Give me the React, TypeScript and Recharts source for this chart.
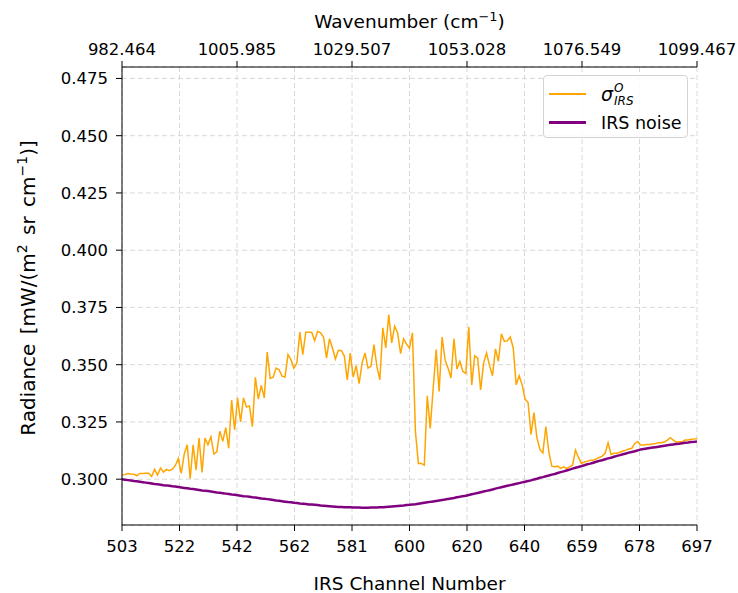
import React from 'react';
import { LineChart, Line, XAxis, YAxis, CartesianGrid, Legend } from 'recharts';

// channel numbers 503..697 (one per sample)
const channels = Array.from({ length: 195 }, (_, i) => 503 + i);

// sigma^O_IRS, one value per channel
const sigmaIrs = [
  0.3018, 0.3020, 0.3025, 0.3023, 0.3022, 0.3015, 0.3025, 0.3025, 0.3026, 0.3026,
  0.3012, 0.3043, 0.3018, 0.3049, 0.3031, 0.3043, 0.3037, 0.3044, 0.3060, 0.3090,
  0.3025, 0.3110, 0.3150, 0.3002, 0.3150, 0.3040, 0.3180, 0.3030, 0.3180, 0.3150,
  0.3185, 0.3110, 0.3120, 0.3210, 0.3165, 0.3225, 0.3135, 0.3345, 0.3215, 0.3355,
  0.3250, 0.3355, 0.3315, 0.3320, 0.3230, 0.3445, 0.3350, 0.3410, 0.3355, 0.3555,
  0.3440, 0.3445, 0.3485, 0.3478, 0.3450, 0.3446, 0.3544, 0.3522, 0.3485, 0.3507,
  0.3642, 0.3544, 0.3642, 0.3642, 0.3642, 0.3605, 0.3646, 0.3639, 0.3621, 0.3529,
  0.3613, 0.3573, 0.3525, 0.3563, 0.3561, 0.3539, 0.3434, 0.3551, 0.3446, 0.3496,
  0.3417, 0.3507, 0.3551, 0.3485, 0.3493, 0.3588, 0.3493, 0.3434, 0.3661, 0.3573,
  0.3719, 0.3595, 0.3668, 0.3639, 0.3548, 0.3613, 0.3590, 0.3572, 0.3639, 0.3208,
  0.3069, 0.3069, 0.3061, 0.3364, 0.3222, 0.3398, 0.3566, 0.3383, 0.3621, 0.3522,
  0.3485, 0.3442, 0.3613, 0.3481, 0.3515, 0.3471, 0.3461, 0.3665, 0.3412, 0.3539,
  0.3529, 0.3390, 0.3507, 0.3551, 0.3496, 0.3452, 0.3569, 0.3515, 0.3635, 0.3602,
  0.3604, 0.3621, 0.3573, 0.3412, 0.3452, 0.3412, 0.3350, 0.3335, 0.3195, 0.3291,
  0.3180, 0.3130, 0.3115, 0.3230, 0.3120, 0.3057, 0.3054, 0.3057, 0.3047, 0.3054,
  0.3047, 0.3054, 0.3061, 0.3127, 0.3095, 0.3069, 0.3075, 0.3079, 0.3083, 0.3083,
  0.3089, 0.3095, 0.3101, 0.3113, 0.3159, 0.3108, 0.3113, 0.3113, 0.3118, 0.3123,
  0.3127, 0.3132, 0.3135, 0.3156, 0.3164, 0.3149, 0.3149, 0.3152, 0.3152, 0.3154,
  0.3156, 0.3159, 0.3159, 0.3162, 0.3171, 0.3181, 0.3171, 0.3162, 0.3164, 0.3164,
  0.3171, 0.3171, 0.3174, 0.3175, 0.3178,
];

// IRS noise
const irsNoise = [
  0.3000, 0.2998, 0.2996, 0.2994, 0.2992, 0.2991, 0.2989, 0.2987, 0.2985, 0.2983,
  0.2981, 0.2979, 0.2978, 0.2976, 0.2974, 0.2973, 0.2971, 0.2969, 0.2968, 0.2966,
  0.2964, 0.2962, 0.2960, 0.2958, 0.2957, 0.2955, 0.2953, 0.2951, 0.2950, 0.2948,
  0.2946, 0.2944, 0.2942, 0.2941, 0.2939, 0.2937, 0.2935, 0.2933, 0.2932, 0.2930,
  0.2928, 0.2926, 0.2925, 0.2923, 0.2921, 0.2920, 0.2918, 0.2916, 0.2915, 0.2913,
  0.2911, 0.2909, 0.2907, 0.2906, 0.2904, 0.2902, 0.2900, 0.2899, 0.2897,
  0.2896, 0.2894, 0.2893, 0.2892, 0.2890, 0.2889, 0.2888, 0.2887, 0.2885, 0.2884,
  0.2883, 0.2882, 0.2881, 0.2880, 0.2879, 0.2879, 0.2878, 0.2877, 0.2877, 0.2876,
  0.2876, 0.2876, 0.2875, 0.2875, 0.2875, 0.2876, 0.2876, 0.2876, 0.2877,
  0.2878, 0.2879, 0.2880, 0.2881, 0.2882, 0.2883, 0.2884, 0.2885, 0.2887, 0.2888,
  0.2890, 0.2891, 0.2893, 0.2895, 0.2897, 0.2899, 0.2901, 0.2903, 0.2905, 0.2907,
  0.2909, 0.2911, 0.2914, 0.2916, 0.2918, 0.2921, 0.2923, 0.2926, 0.2928, 0.2931,
  0.2934, 0.2937, 0.2940, 0.2943, 0.2946, 0.2949, 0.2952, 0.2955, 0.2959, 0.2962,
  0.2965, 0.2968, 0.2971, 0.2974, 0.2977, 0.2980, 0.2983, 0.2986, 0.2989, 0.2992,
  0.2995, 0.2999, 0.3002, 0.3006, 0.3009, 0.3013, 0.3016, 0.3020, 0.3023, 0.3027,
  0.3031, 0.3034, 0.3038, 0.3042, 0.3046, 0.3050, 0.3053, 0.3057, 0.3061,
  0.3065, 0.3068, 0.3072, 0.3076, 0.3080, 0.3083, 0.3087, 0.3091, 0.3094, 0.3098,
  0.3102, 0.3105, 0.3109, 0.3112, 0.3116, 0.3119, 0.3122, 0.3126, 0.3130,
  0.3132, 0.3134, 0.3136, 0.3138, 0.3140, 0.3142, 0.3144, 0.3146, 0.3148, 0.3150,
  0.3152, 0.3154, 0.3155, 0.3157, 0.3159, 0.3160, 0.3162, 0.3163, 0.3165,
];

// bottom axis ticks (10 equal steps) and their printed labels
const channelTicks = [503, 522.4, 541.8, 561.2, 580.6, 600, 619.4, 638.8, 658.2, 677.6, 697];
const channelTickLabels = ['503', '522', '542', '562', '581', '600', '620', '640', '659', '678', '697'];

// top axis: every other bottom tick, labelled with wavenumber
const wavenumberTicks = [503, 541.8, 580.6, 619.4, 658.2, 697];
const wavenumberLabels = ['982.464', '1005.985', '1029.507', '1053.028', '1076.549', '1099.467'];

const radianceTicks = [0.3, 0.325, 0.35, 0.375, 0.4, 0.425, 0.45, 0.475];

const data = channels.map((ch, i) => ({ ch, sigma: sigmaIrs[i], noise: irsNoise[i] }));

const FONT = '"DejaVu Sans", sans-serif';
const tickStyle = { fontSize: 16.5, fill: '#000', fontFamily: FONT };
const TITLE = 18.5;
const SUP = 13;

const BottomTitle = ({ viewBox }: any) => {
  const cx = viewBox.x + viewBox.width / 2;
  return (
    <text x={cx} y={590} textAnchor="middle" fontSize={TITLE} fontFamily={FONT} fill="#000">
      IRS Channel Number
    </text>
  );
};

const TopTitle = ({ viewBox }: any) => {
  const cx = viewBox.x + viewBox.width / 2;
  return (
    <text x={cx} y={28} textAnchor="middle" fontSize={TITLE} fontFamily={FONT} fill="#000">
      <tspan>Wavenumber (cm</tspan>
      <tspan dy={-7} fontSize={SUP}>−1</tspan>
      <tspan dy={7}>)</tspan>
    </text>
  );
};

const LeftTitle = ({ viewBox }: any) => {
  const cy = viewBox.y + viewBox.height / 2 - 8;
  const x = 35;
  return (
    <text
      x={x}
      y={cy}
      transform={`rotate(-90 ${x} ${cy})`}
      textAnchor="middle"
      fontSize={20}
      fontFamily={FONT}
      fill="#000"
      style={{ wordSpacing: 3 }}
    >
      <tspan>Radiance [mW/(m</tspan>
      <tspan dy={-8} fontSize={14}>2</tspan>
      <tspan dy={8}> sr cm</tspan>
      <tspan dy={-8} fontSize={14}>−1</tspan>
      <tspan dy={8}>)]</tspan>
    </text>
  );
};

const LegendBox = () => (
  <div
    style={{
      width: 145,
      height: 63,
      boxSizing: 'border-box',
      border: '1px solid #d3d3d3',
      borderRadius: 4,
      background: 'rgba(255,255,255,0.85)',
      padding: '3px 0 0 5px',
      fontFamily: FONT,
      fontSize: 17.5,
      color: '#000',
    }}
  >
    <div style={{ display: 'flex', alignItems: 'center', height: 29 }}>
      <div style={{ width: 37, height: 2, background: '#FFA500', marginRight: 15 }} />
      <span style={{ fontStyle: 'italic', fontSize: 19 }}>σ</span>
      <span
        style={{
          display: 'inline-flex',
          flexDirection: 'column',
          fontSize: 12,
          fontStyle: 'italic',
          lineHeight: '13px',
          marginLeft: 1,
          marginTop: 2,
        }}
      >
        <span>O</span>
        <span>IRS</span>
      </span>
    </div>
    <div style={{ display: 'flex', alignItems: 'center', height: 29 }}>
      <div style={{ width: 37, height: 3, background: '#800080', marginRight: 15 }} />
      <span>IRS noise</span>
    </div>
  </div>
);

export default function App() {
  return (
    <div style={{ position: 'absolute', left: 0, top: 0, width: 738, height: 593, background: '#fff' }}>
      <LineChart width={738} height={593} data={data} margin={{ top: 0, right: 41, bottom: 0, left: 0 }}>
        <CartesianGrid stroke="#d8d8d8" strokeDasharray="5 3" />
        <XAxis
          dataKey="ch"
          type="number"
          domain={[503, 697]}
          ticks={channelTicks}
          interval={0}
          tickFormatter={(v: number) => channelTickLabels[channelTicks.indexOf(v)]}
          height={68}
          tickSize={6}
          tickMargin={9}
          tick={tickStyle}
          stroke="#000"
          label={<BottomTitle />}
          allowDataOverflow
        />
        <XAxis
          xAxisId="top"
          orientation="top"
          dataKey="ch"
          type="number"
          domain={[503, 697]}
          ticks={wavenumberTicks}
          interval={0}
          tickFormatter={(v: number) => wavenumberLabels[wavenumberTicks.indexOf(v)]}
          height={67}
          tickSize={6}
          tickMargin={6}
          tick={tickStyle}
          stroke="#000"
          label={<TopTitle />}
          allowDataOverflow
        />
        <YAxis
          type="number"
          domain={[0.28, 0.48]}
          ticks={radianceTicks}
          interval={0}
          tickFormatter={(v: number) => v.toFixed(3)}
          width={122}
          tickSize={6}
          tickMargin={8}
          tick={tickStyle}
          stroke="#000"
          label={<LeftTitle />}
          allowDataOverflow
        />
        <YAxis yAxisId="right" orientation="right" domain={[0.28, 0.48]} width={0} tick={false} tickLine={false} stroke="#000" />
        <Legend
          layout="vertical"
          align="center"
          verticalAlign="middle"
          content={<LegendBox />}
          wrapperStyle={{ position: 'absolute', left: 543, top: 75, width: 145 }}
        />
        <Line
          dataKey="sigma"
          name="σ^O_IRS"
          type="linear"
          stroke="#FFA500"
          strokeWidth={1.5}
          dot={false}
          isAnimationActive={false}
        />
        <Line
          dataKey="noise"
          name="IRS noise"
          type="linear"
          stroke="#800080"
          strokeWidth={2.5}
          dot={false}
          isAnimationActive={false}
        />
      </LineChart>
    </div>
  );
}
